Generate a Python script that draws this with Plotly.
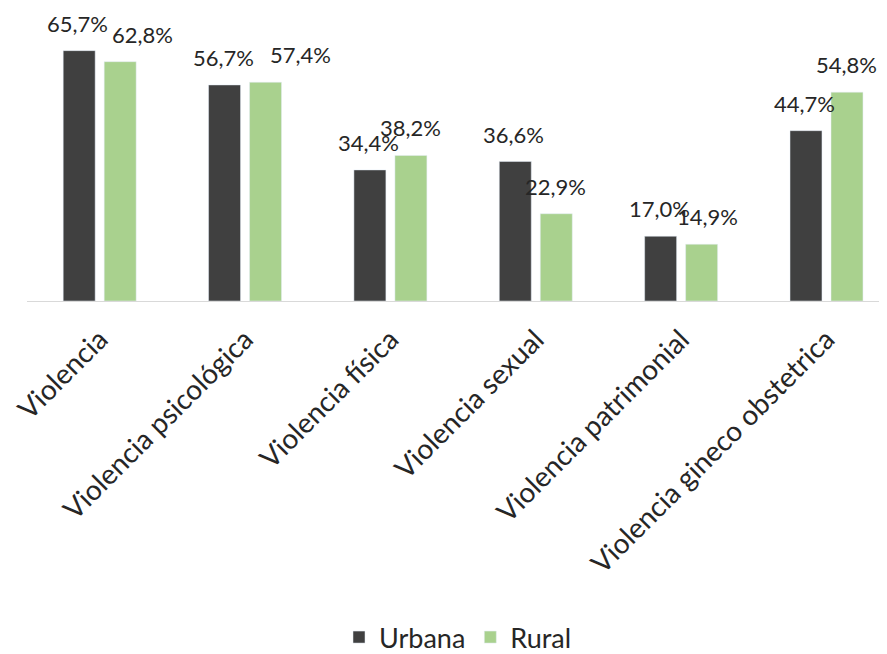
import plotly.graph_objects as go

categorias = [
    "Violencia",
    "Violencia psicológica",
    "Violencia física",
    "Violencia sexual",
    "Violencia patrimonial",
    "Violencia gineco obstetrica",
]
urbana = [65.7, 56.7, 34.4, 36.6, 17.0, 44.7]
rural = [62.8, 57.4, 38.2, 22.9, 14.9, 54.8]

# desplazamiento horizontal (px) de las etiquetas rurales, como en el original
ajuste_rural = [23, 35, 0, 0, 6, 0]


def etiqueta(v):
    # coma decimal, como en el original
    return f"{v:.1f}%".replace(".", ",")


fig = go.Figure()
fig.add_trace(go.Bar(x=categorias, y=urbana, name="Urbana", marker_color="#404040"))
fig.add_trace(go.Bar(x=categorias, y=rural, name="Rural", marker_color="#A9D18E"))

# etiquetas de valor encima de cada barra
for cat, u, r, dx in zip(categorias, urbana, rural, ajuste_rural):
    fig.add_annotation(x=cat, y=u, text=etiqueta(u), xshift=-22, yshift=12,
                       yanchor="bottom", showarrow=False)
    fig.add_annotation(x=cat, y=r, text=etiqueta(r), xshift=20 + dx, yshift=12,
                       yanchor="bottom", showarrow=False)

fig.update_annotations(font=dict(size=22, color="#262626"))

fig.update_layout(
    width=881, height=654,
    margin=dict(l=19, r=0, t=3, b=358),
    paper_bgcolor="white",
    plot_bgcolor="white",
    font=dict(family="Lato, Open Sans, sans-serif", color="#262626"),
    barmode="group",
    bargap=0.436,
    bargroupgap=0.22,
    showlegend=True,
    legend=dict(
        orientation="h",
        x=0.5, xanchor="center",
        y=-1.163, yanchor="middle",
        font=dict(size=27),
        itemclick=False,
    ),
)
fig.update_xaxes(
    tickangle=-45,
    tickfont=dict(size=28),
    ticklabelstandoff=10,
    range=[-0.5, 5.43],
    automargin=False,
    showline=True, linecolor="#D9D9D9", linewidth=1,
    ticks="",
)
fig.update_yaxes(
    range=[0, 76.1],
    visible=False,
    showgrid=False,
    automargin=False,
)

fig.write_html("out.html")
